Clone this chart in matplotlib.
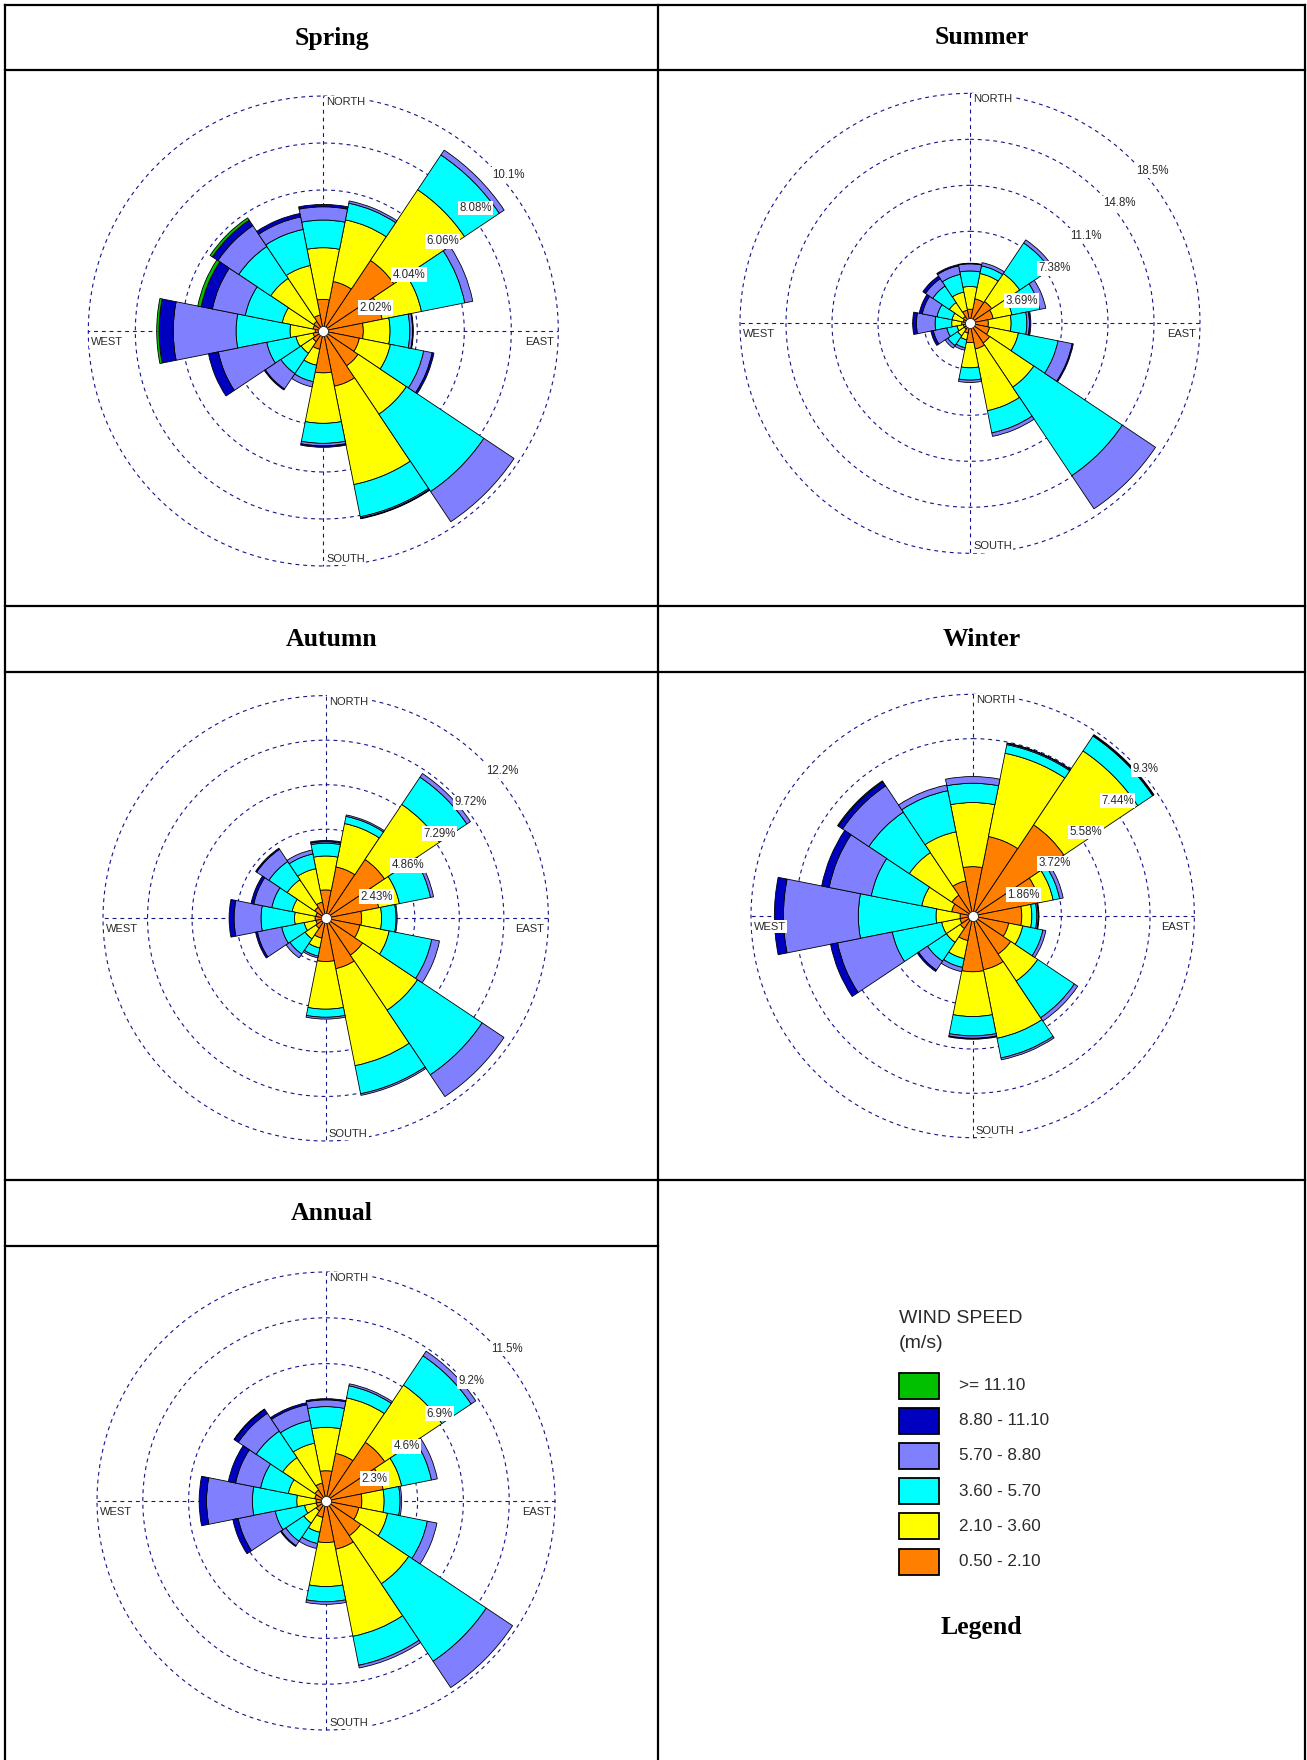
import numpy as np
import matplotlib
matplotlib.use('Agg')
import matplotlib.pyplot as plt
from matplotlib.lines import Line2D
from matplotlib.patches import Rectangle

W, H = 1307, 1760

directions = ['N', 'NNE', 'NE', 'ENE', 'E', 'ESE', 'SE', 'SSE',
              'S', 'SSW', 'SW', 'WSW', 'W', 'WNW', 'NW', 'NNW']
speed_labels = ['>= 11.10', '8.80 - 11.10', '5.70 - 8.80',
                '3.60 - 5.70', '2.10 - 3.60', '0.50 - 2.10']
class_colors = ['#FF8000', '#FFFF00', '#00FFFF', '#8080FF', '#0000C0', '#00C000']
legend_colors = ['#00C000', '#0000C0', '#8080FF', '#00FFFF', '#FFFF00', '#FF8000']

# frequency (%) per direction for each speed class: 0.5-2.1, 2.1-3.6, 3.6-5.7, 5.7-8.8, 8.8-11.1, >=11.1
spring_c1 = [1.36, 2.17, 3.65, 2.58, 1.72, 1.58, 1.80, 2.42, 1.80, 0.80, 0.55, 0.45, 0.35, 0.45, 0.50, 0.70]
spring_c2 = [2.22, 2.70, 3.65, 1.72, 1.15, 1.36, 2.50, 4.31, 2.17, 0.70, 0.60, 0.75, 1.08, 1.35, 2.22, 2.17]
spring_c3 = [1.19, 0.73, 1.80, 1.90, 0.85, 1.46, 4.00, 1.41, 0.86, 0.72, 1.05, 1.28, 2.32, 1.62, 1.65, 1.58]
spring_c4 = [0.57, 0.10, 0.25, 0.35, 0.12, 0.37, 1.56, 0.06, 0.11, 0.23, 0.80, 2.12, 2.70, 1.44, 1.08, 0.55]
spring_c5 = [0.10, 0.00, 0.00, 0.00, 0.03, 0.08, 0.00, 0.03, 0.06, 0.00, 0.05, 0.43, 0.61, 0.49, 0.28, 0.15]
spring_c6 = [0.00, 0.00, 0.00, 0.00, 0.00, 0.00, 0.00, 0.00, 0.00, 0.00, 0.00, 0.00, 0.10, 0.15, 0.12, 0.00]

summer_c1 = [1.13, 2.00, 2.10, 1.90, 1.47, 1.60, 1.90, 2.10, 1.55, 0.80, 0.55, 0.55, 0.67, 0.55, 0.67, 1.07]
summer_c2 = [1.82, 2.07, 2.70, 1.53, 1.83, 2.36, 4.26, 5.05, 2.02, 0.55, 0.65, 0.52, 0.80, 0.92, 1.33, 1.48]
summer_c3 = [1.25, 0.63, 2.95, 2.27, 1.26, 3.24, 8.54, 1.81, 0.99, 0.65, 0.95, 0.83, 1.33, 1.23, 1.60, 1.45]
summer_c4 = [0.57, 0.26, 0.30, 0.50, 0.21, 1.16, 3.20, 0.29, 0.19, 0.20, 0.25, 1.10, 1.50, 1.20, 0.70, 0.70]
summer_c5 = [0.05, 0.00, 0.00, 0.00, 0.11, 0.09, 0.00, 0.00, 0.00, 0.00, 0.00, 0.20, 0.30, 0.25, 0.25, 0.10]
summer_c6 = [0.00] * 16

autumn_c1 = [1.55, 2.86, 3.86, 2.95, 1.96, 1.90, 2.42, 2.80, 2.36, 1.10, 0.65, 0.55, 0.58, 0.55, 0.73, 0.90]
autumn_c2 = [1.85, 2.41, 3.61, 1.15, 1.09, 1.63, 3.61, 5.40, 2.60, 0.55, 0.70, 0.65, 1.12, 1.32, 1.80, 1.86]
autumn_c3 = [0.70, 0.40, 1.79, 1.73, 0.79, 2.37, 4.24, 1.56, 0.44, 0.45, 1.00, 1.25, 1.83, 1.13, 1.20, 0.82]
autumn_c4 = [0.08, 0.08, 0.24, 0.17, 0.06, 0.43, 1.43, 0.09, 0.10, 0.10, 0.25, 1.35, 1.47, 1.00, 0.80, 0.22]
autumn_c5 = [0.07, 0.00, 0.00, 0.00, 0.00, 0.00, 0.00, 0.00, 0.00, 0.00, 0.00, 0.10, 0.27, 0.15, 0.07, 0.00]
autumn_c6 = [0.00] * 16

winter_c1 = [2.07, 3.40, 4.60, 2.86, 2.06, 1.54, 1.92, 2.30, 2.34, 1.05, 0.63, 0.55, 0.53, 0.90, 1.05, 1.50]
winter_c2 = [2.69, 3.56, 3.73, 0.58, 0.42, 0.60, 1.36, 2.93, 1.88, 0.77, 0.70, 0.78, 1.01, 1.28, 2.15, 2.10]
winter_c3 = [0.81, 0.37, 0.75, 0.28, 0.21, 0.86, 1.85, 0.84, 0.81, 0.38, 0.95, 2.11, 3.26, 2.16, 2.04, 1.76]
winter_c4 = [0.28, 0.05, 0.03, 0.15, 0.06, 0.13, 0.17, 0.08, 0.10, 0.18, 0.45, 2.34, 3.14, 1.80, 1.33, 0.24]
winter_c5 = [0.00, 0.02, 0.04, 0.00, 0.03, 0.00, 0.00, 0.00, 0.04, 0.00, 0.07, 0.30, 0.38, 0.32, 0.21, 0.00]
winter_c6 = [0.00, 0.00, 0.00, 0.00, 0.00, 0.00, 0.00, 0.00, 0.00, 0.00, 0.00, 0.00, 0.00, 0.00, 0.04, 0.00]

annual_c1 = [1.52, 2.44, 3.55, 2.93, 1.80, 1.68, 2.10, 2.47, 2.09, 0.84, 0.60, 0.50, 0.50, 0.58, 0.67, 0.92]
annual_c2 = [2.18, 2.84, 3.45, 0.94, 1.12, 1.47, 2.90, 4.46, 2.21, 0.76, 0.74, 0.60, 0.97, 1.35, 1.95, 2.04]
annual_c3 = [1.04, 0.62, 1.77, 1.53, 0.80, 2.04, 4.68, 1.48, 0.76, 0.58, 1.09, 1.50, 2.23, 1.42, 1.60, 1.16]
annual_c4 = [0.34, 0.10, 0.28, 0.30, 0.08, 0.49, 1.59, 0.14, 0.13, 0.25, 0.27, 1.90, 2.30, 1.28, 1.08, 0.81]
annual_c5 = [0.06, 0.00, 0.00, 0.00, 0.00, 0.00, 0.00, 0.00, 0.00, 0.00, 0.05, 0.27, 0.37, 0.37, 0.23, 0.10]
annual_c6 = [0.00, 0.00, 0.00, 0.00, 0.00, 0.00, 0.00, 0.00, 0.00, 0.00, 0.00, 0.00, 0.00, 0.00, 0.03, 0.00]

spring_rings = [2.02, 4.04, 6.06, 8.08, 10.1]
summer_rings = [3.69, 7.38, 11.07, 14.76, 18.45]
autumn_rings = [2.43, 4.86, 7.29, 9.72, 12.15]
winter_rings = [1.86, 3.72, 5.58, 7.44, 9.3]
annual_rings = [2.3, 4.6, 6.9, 9.2, 11.5]

spring_ring_labels = ['2.02%', '4.04%', '6.06%', '8.08%', '10.1%']
summer_ring_labels = ['3.69%', '7.38%', '11.1%', '14.8%', '18.5%']
autumn_ring_labels = ['2.43%', '4.86%', '7.29%', '9.72%', '12.2%']
winter_ring_labels = ['1.86%', '3.72%', '5.58%', '7.44%', '9.3%']
annual_ring_labels = ['2.3%', '4.6%', '6.9%', '9.2%', '11.5%']

titles = ['Spring', 'Summer', 'Autumn', 'Winter', 'Annual']

fig = plt.figure(figsize=(W / 100, H / 100), dpi=100)
fig.patch.set_facecolor('white')

SANS = ['Liberation Sans', 'DejaVu Sans']
SERIF = ['Liberation Serif', 'DejaVu Serif']
GRID_COLOR = '#15158a'
TXT = '#2a2a2a'


def fx(x):
    return x / W


def fy(y):
    return 1 - y / H


def table_line(x0, y0, x1, y1):
    fig.add_artist(Line2D([fx(x0), fx(x1)], [fy(y0), fy(y1)], transform=fig.transFigure,
                          color='black', lw=1.6, solid_capstyle='projecting'))


# table grid
table_line(5, 5, 1305, 5)
table_line(5, 5, 5, 1760)
table_line(1305, 5, 1305, 1760)
table_line(658, 5, 658, 1760)
table_line(5, 70.5, 1305, 70.5)
table_line(5, 606, 1305, 606)
table_line(5, 671.5, 1305, 671.5)
table_line(5, 1180, 1305, 1180)
table_line(5, 1246, 658, 1246)

# cell titles
title_pos = [(331.5, 38), (981.5, 38), (331.5, 639), (981.5, 639), (331.5, 1213.5)]
for t, (x, y) in zip(titles, title_pos):
    fig.text(fx(x), fy(y), t, ha='center', va='center', fontsize=18.5,
             fontweight='bold', family=SERIF, color='black')
fig.text(fx(981.5), fy(1627), 'Legend', ha='center', va='center', fontsize=18.5,
         fontweight='bold', family=SERIF, color='black')

panels = [
    ([spring_c1, spring_c2, spring_c3, spring_c4, spring_c5, spring_c6], spring_rings, spring_ring_labels, (323.3, 331), 235),
    ([summer_c1, summer_c2, summer_c3, summer_c4, summer_c5, summer_c6], summer_rings, summer_ring_labels, (970, 323.3), 230),
    ([autumn_c1, autumn_c2, autumn_c3, autumn_c4, autumn_c5, autumn_c6], autumn_rings, autumn_ring_labels, (325.7, 918.3), 222.7),
    ([winter_c1, winter_c2, winter_c3, winter_c4, winter_c5, winter_c6], winter_rings, winter_ring_labels, (972.7, 916), 221.7),
    ([annual_c1, annual_c2, annual_c3, annual_c4, annual_c5, annual_c6], annual_rings, annual_ring_labels, (326, 1501), 229),
]

theta = np.arange(len(directions)) * 2 * np.pi / len(directions)
width = 2 * np.pi / len(directions)
circ = np.linspace(0, 2 * np.pi, 721)
label_box = dict(boxstyle='square,pad=0.12', fc='white', ec='none')

for classes, rings, ring_labels, (cx, cy), R in panels:
    ax = fig.add_axes([fx(cx - R), fy(cy + R), 2 * R / W, 2 * R / H], projection='polar')
    ax.set_theta_zero_location('N')
    ax.set_theta_direction(-1)
    rmax = rings[-1]
    ax.set_ylim(0, rmax)
    ax.set_xticks([])
    ax.set_yticks([])
    ax.grid(False)
    ax.spines['polar'].set_visible(False)
    ax.patch.set_alpha(0)

    for r in rings:
        ax.plot(circ, np.full_like(circ, r), color=GRID_COLOR, lw=0.8,
                ls=(0, (3.5, 3.5)), zorder=0.5, clip_on=False)
    for t in [0, np.pi / 2, np.pi, 3 * np.pi / 2]:
        ax.plot([t, t], [0, rmax], color=GRID_COLOR, lw=0.8,
                ls=(0, (3.5, 3.5)), zorder=0.5, clip_on=False)

    bottom = np.zeros(len(directions))
    for vals, col in zip(classes, class_colors):
        vals = np.asarray(vals, dtype=float)
        m = vals > 0
        ax.bar(theta[m], vals[m], width=width, bottom=bottom[m], color=col,
               edgecolor='black', linewidth=0.6, zorder=1)
        bottom = bottom + vals

    ax.plot([0], [0], 'o', ms=7.2, mfc='white', mec='#222222', mew=0.6,
            zorder=5, clip_on=False)

    for r, lab in zip(rings, ring_labels):
        ax.annotate(lab, xy=(np.radians(45), r), xytext=(2.2, -2.9),
                    textcoords='offset points', ha='left', va='top',
                    fontsize=8.3, family=SANS, color=TXT, bbox=label_box,
                    zorder=10, annotation_clip=False)

    ax.annotate('NORTH', xy=(0, rmax), xytext=(2.2, -0.7), textcoords='offset points',
                ha='left', va='top', fontsize=8, family=SANS, color=TXT,
                bbox=label_box, zorder=10, annotation_clip=False)
    ax.annotate('SOUTH', xy=(np.pi, rmax), xytext=(2.2, 1.4), textcoords='offset points',
                ha='left', va='bottom', fontsize=8, family=SANS, color=TXT,
                bbox=label_box, zorder=10, annotation_clip=False)
    ax.annotate('EAST', xy=(np.pi / 2, rmax), xytext=(-2.9, -4.0), textcoords='offset points',
                ha='right', va='top', fontsize=8, family=SANS, color=TXT,
                bbox=label_box, zorder=10, annotation_clip=False)
    ax.annotate('WEST', xy=(3 * np.pi / 2, rmax), xytext=(1.8, -4.0), textcoords='offset points',
                ha='left', va='top', fontsize=8, family=SANS, color=TXT,
                bbox=label_box, zorder=10, annotation_clip=False)

# legend
fig.text(fx(899), fy(1323), 'WIND SPEED', ha='left', va='baseline', fontsize=14,
         family=SANS, color=TXT)
fig.text(fx(899), fy(1348), '(m/s)', ha='left', va='baseline', fontsize=14,
         family=SANS, color=TXT)
for i, (lab, col) in enumerate(zip(speed_labels, legend_colors)):
    top = 1372.5 + i * 35.2
    fig.add_artist(Rectangle((fx(899), fy(top + 26)), 40 / W, 26 / H,
                             transform=fig.transFigure, facecolor=col,
                             edgecolor='black', linewidth=1.3))
    fig.text(fx(959), fy(top + 13), lab, ha='left', va='center', fontsize=12.3,
             family=SANS, color=TXT)

fig.savefig('out.png', dpi=100, facecolor='white')
